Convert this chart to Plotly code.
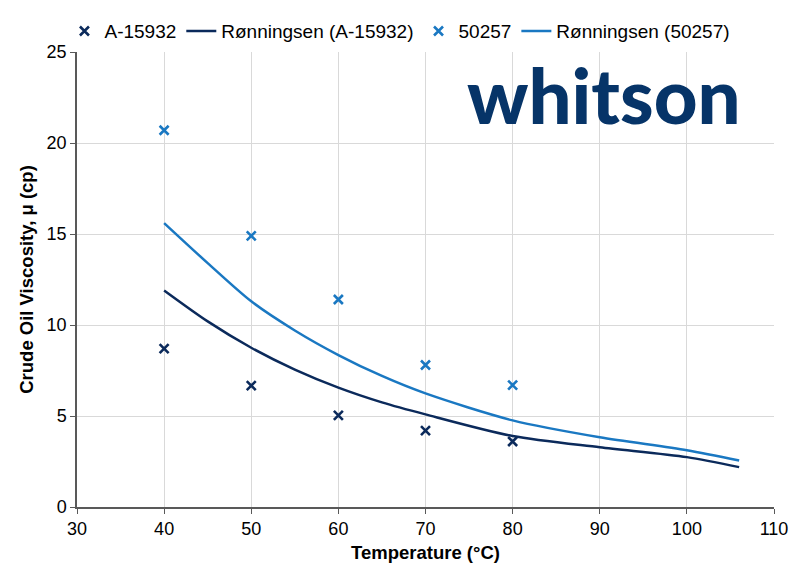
import plotly.graph_objects as go

DARK = "#0b2a5b"
LIGHT = "#1a78c2"
LOGO = "#063468"

temps_meas = [40, 50, 60, 70, 80]
visc_a15932 = [8.7, 6.67, 5.03, 4.2, 3.6]
visc_50257 = [20.7, 14.9, 11.4, 7.8, 6.7]

temps_model = [40, 45, 50, 55, 60, 65, 70, 80, 90, 100, 106]
ronn_a15932 = [11.9, 10.2, 8.75, 7.55, 6.56, 5.75, 5.09, 3.9, 3.28, 2.74, 2.19]
ronn_50257 = [15.6, 13.4, 11.3, 9.7, 8.35, 7.2, 6.24, 4.76, 3.83, 3.12, 2.55]

fig = go.Figure()
fig.add_trace(go.Scatter(x=temps_meas, y=visc_a15932, mode="markers", name="A-15932",
                         marker=dict(symbol="x-thin-open", size=9, color=DARK,
                                     line=dict(width=2.6, color=DARK))))
fig.add_trace(go.Scatter(x=temps_model, y=ronn_a15932, mode="lines", name="Rønningsen (A-15932)",
                         line=dict(color=DARK, width=2.5, shape="spline", smoothing=0.8)))
fig.add_trace(go.Scatter(x=temps_meas, y=visc_50257, mode="markers", name="50257",
                         marker=dict(symbol="x-thin-open", size=9, color=LIGHT,
                                     line=dict(width=2.6, color=LIGHT))))
fig.add_trace(go.Scatter(x=temps_model, y=ronn_50257, mode="lines", name="Rønningsen (50257)",
                         line=dict(color=LIGHT, width=2.5, shape="spline", smoothing=0.8)))

axis_common = dict(
    showgrid=True, gridcolor="#d9d9d9", gridwidth=1,
    showline=True, linecolor="#595959", linewidth=1.5,
    ticks="outside", ticklen=5, tickcolor="#595959",
    tickfont=dict(family="Liberation Sans, Arial", size=18, color="#000000"),
    zeroline=False,
)

fig.update_layout(
    width=800, height=580,
    margin=dict(l=77, r=26, t=50, b=73),
    paper_bgcolor="white", plot_bgcolor="white",
    font=dict(family="Liberation Sans, Arial", size=18, color="#000000"),
    showlegend=True,
    legend=dict(orientation="h", x=-0.018, xanchor="left",
                y=1.004, yanchor="bottom",
                font=dict(size=19), itemwidth=30, tracegroupgap=0,
                bgcolor="rgba(0,0,0,0)"),
    xaxis=dict(range=[30, 110], dtick=10,
               title=dict(text="<b>Temperature (°C)</b>", font=dict(size=18.5), standoff=8),
               **axis_common),
    yaxis=dict(range=[0, 25], dtick=5,
               title=dict(text="<b>Crude Oil Viscosity, μ (cp)</b>", font=dict(size=18.5), standoff=8),
               **axis_common),
)

fig.add_annotation(text="whitson", xref="paper", yref="paper",
                   x=0.955, y=1.011, xanchor="right", yanchor="top", showarrow=False,
                   font=dict(family="Lato", size=76, color=LOGO, weight=900))

fig.write_html("out.html")
